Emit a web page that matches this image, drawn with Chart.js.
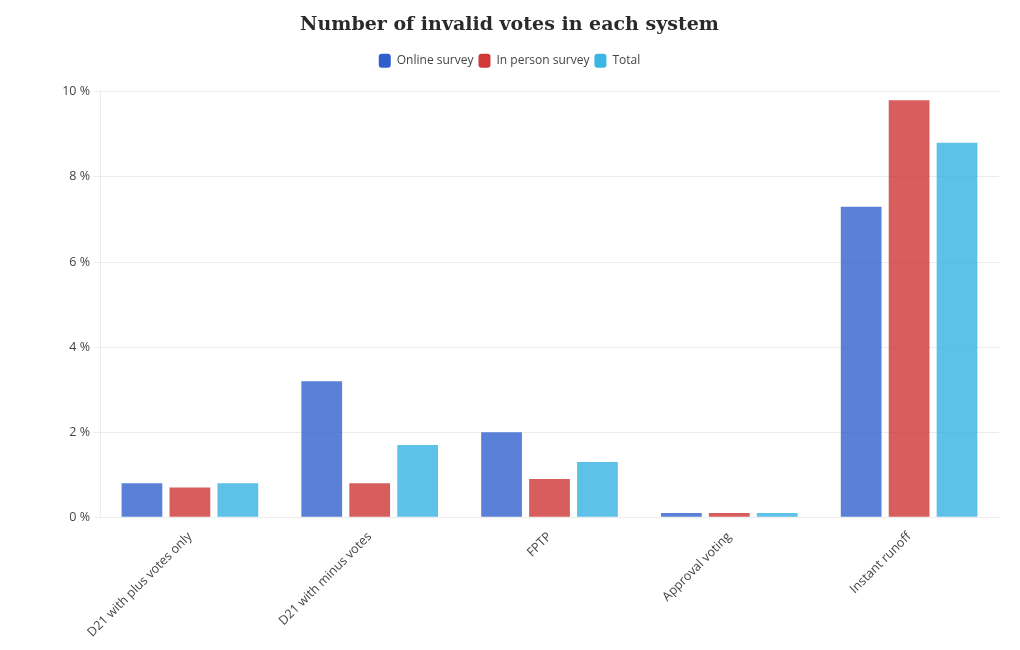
<!DOCTYPE html>
<html>
<head>
<meta charset="utf-8">
<script src="https://cdn.jsdelivr.net/npm/chart.js@4"></script>
<style>
  html, body { margin: 0; padding: 0; background: #fff; }
  #wrap { width: 1020px; height: 650px; position: relative; }
</style>
</head>
<body>
<div id="wrap"><canvas id="chart"></canvas></div>
<script>
// Categories and series (percent of invalid votes)
const systems = ['D21 with plus votes only', 'D21 with minus votes', 'FPTP', 'Approval voting', 'Instant runoff'];
const onlineSurvey = [0.8, 3.2, 2.0, 0.1, 7.3];
const inPersonSurvey = [0.7, 0.8, 0.9, 0.1, 9.8];
const totalVotes = [0.8, 1.7, 1.3, 0.1, 8.8];

const blue = 'rgba(44, 94, 204, 0.78)';
const red = 'rgba(206, 52, 52, 0.8)';
const cyan = 'rgba(52, 178, 226, 0.8)';
const textColor = '#444';
const gridColor = '#ececec';

new Chart(document.getElementById('chart'), {
  type: 'bar',
  data: {
    labels: systems,
    datasets: [
      { label: 'Online survey', data: onlineSurvey, backgroundColor: blue },
      { label: 'In person survey', data: inPersonSurvey, backgroundColor: red },
      { label: 'Total', data: totalVotes, backgroundColor: cyan }
    ]
  },
  options: {
    responsive: true,
    maintainAspectRatio: false,
    animation: false,
    categoryPercentage: 0.8,
    barPercentage: 0.85,
    layout: { padding: { left: 20, right: 21, top: 4, bottom: 6 } },
    plugins: {
      title: {
        display: true,
        text: 'Number of invalid votes in each system',
        color: '#2a2a2a',
        font: { family: 'DejaVu Serif', size: 19, weight: 'bold' },
        padding: { top: 10, bottom: 12 }
      },
      legend: {
        position: 'top',
        labels: {
          color: textColor,
          font: { family: 'Open Sans', size: 12 },
          boxWidth: 12,
          boxHeight: 14,
          useBorderRadius: true,
          borderRadius: 3,
          padding: 5,
          generateLabels(chart) {
            const solid = ['#2f5fcd', '#d13838', '#3bb6e2'];
            return chart.data.datasets.map((ds, i) => ({
              text: ds.label,
              fillStyle: solid[i],
              strokeStyle: solid[i],
              lineWidth: 0,
              borderRadius: 3,
              fontColor: textColor,
              datasetIndex: i
            }));
          }
        }
      },
      tooltip: { enabled: false }
    },
    scales: {
      x: {
        grid: { display: false },
        border: { color: gridColor },
        ticks: {
          color: textColor,
          font: { family: 'Open Sans', size: 12.5 },
          maxRotation: 45,
          minRotation: 45,
          padding: 4
        }
      },
      y: {
        min: 0,
        max: 10,
        afterFit(scale) { scale.width = 80; },
        grid: { color: gridColor, tickLength: 6 },
        border: { color: gridColor },
        ticks: {
          stepSize: 2,
          color: textColor,
          font: { family: 'Open Sans', size: 12.5 },
          padding: 4,
          callback: v => v + ' %'
        }
      }
    }
  },
  plugins: [{
    // extra gap under the legend, as in the reference
    id: 'legendGap',
    beforeInit(chart) {
      const fit = chart.legend.fit;
      chart.legend.fit = function () {
        fit.bind(chart.legend)();
        this.height += 14;
      };
    }
  }]
});
</script>
</body>
</html>
